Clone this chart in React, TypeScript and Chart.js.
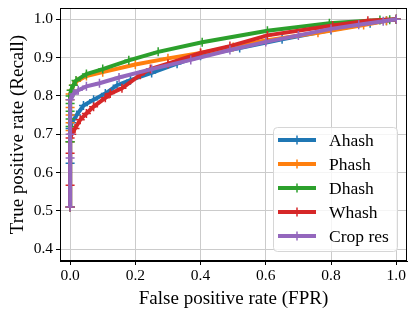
import React, { useEffect, useRef } from "react";
import { Chart, registerables } from "chart.js";
Chart.register(...registerables);

const seriesNames = ["Ahash", "Phash", "Dhash", "Whash", "Crop res"];
const seriesColors = ["#1f77b4", "#ff7f0e", "#2ca02c", "#d62728", "#9467bd"];

const ahashFpr = [0, 0, 0, 0, 0.005, 0.02, 0.041, 0.072, 0.108, 0.144, 0.185, 0.25, 0.328, 0.4, 0.52, 0.65, 0.8, 0.92, 0.97, 1];
const ahashTpr = [0.51, 0.624, 0.68, 0.715, 0.73, 0.75, 0.775, 0.79, 0.806, 0.828, 0.841, 0.86, 0.884, 0.905, 0.925, 0.948, 0.972, 0.99, 0.996, 1];

const phashFpr = [0, 0, 0, 0, 0, 0, 0, 0, 0.005, 0.01, 0.02, 0.05, 0.1, 0.2, 0.3, 0.4, 0.5, 0.6, 0.76, 0.9, 0.97, 1];
const phashTpr = [0.51, 0.68, 0.71, 0.73, 0.75, 0.77, 0.79, 0.805, 0.815, 0.828, 0.838, 0.852, 0.862, 0.882, 0.898, 0.912, 0.928, 0.945, 0.965, 0.985, 0.996, 1];

const dhashFpr = [0, 0, 0, 0, 0, 0, 0, 0.003, 0.01, 0.018, 0.05, 0.1, 0.18, 0.27, 0.405, 0.605, 0.795, 0.95, 0.98, 1];
const dhashTpr = [0.51, 0.68, 0.72, 0.74, 0.76, 0.78, 0.8, 0.815, 0.828, 0.84, 0.857, 0.87, 0.893, 0.915, 0.94, 0.97, 0.99, 0.998, 0.999, 1];

const whashFpr = [0, 0, 0, 0, 0.005, 0.015, 0.031, 0.05, 0.072, 0.108, 0.123, 0.159, 0.215, 0.246, 0.3, 0.4, 0.49, 0.605, 0.805, 0.913, 1];
const whashTpr = [0.51, 0.567, 0.65, 0.69, 0.7, 0.715, 0.738, 0.754, 0.772, 0.795, 0.806, 0.82, 0.855, 0.87, 0.884, 0.912, 0.93, 0.958, 0.984, 0.996, 1];

const cropFpr = [0, 0, 0, 0, 0.01, 0.025, 0.05, 0.09, 0.15, 0.25, 0.37, 0.49, 0.6, 0.7, 0.8, 0.885, 0.96, 1];
const cropTpr = [0.51, 0.638, 0.7, 0.79, 0.805, 0.815, 0.825, 0.833, 0.848, 0.87, 0.894, 0.92, 0.941, 0.958, 0.975, 0.986, 0.995, 1];

const xTickValues = [0, 0.2, 0.4, 0.6, 0.8, 1.0];
const yTickValues = [0.4, 0.5, 0.6, 0.7, 0.8, 0.9, 1.0];

const xAxisLabel = "False positive rate (FPR)";
const yAxisLabel = "True positive rate (Recall)";

const FONT = "'Liberation Serif', 'Times New Roman', serif";

const fprs = [ahashFpr, phashFpr, dhashFpr, whashFpr, cropFpr];
const tprs = [ahashTpr, phashTpr, dhashTpr, whashTpr, cropTpr];

const framePlugin = {
  id: "frameAndLegend",
  afterDraw(chart: any) {
    const { ctx, chartArea } = chart;
    ctx.save();
    ctx.strokeStyle = "#000";
    ctx.lineWidth = 1;
    ctx.strokeRect(chartArea.left + 0.5, chartArea.top + 0.5, chartArea.right - chartArea.left - 1, chartArea.bottom - chartArea.top - 1);

    // legend
    const bx = 273.5, by = 127.5, bw = 124, bh = 124, r = 4;
    ctx.beginPath();
    ctx.moveTo(bx + r, by);
    ctx.lineTo(bx + bw - r, by);
    ctx.quadraticCurveTo(bx + bw, by, bx + bw, by + r);
    ctx.lineTo(bx + bw, by + bh - r);
    ctx.quadraticCurveTo(bx + bw, by + bh, bx + bw - r, by + bh);
    ctx.lineTo(bx + r, by + bh);
    ctx.quadraticCurveTo(bx, by + bh, bx, by + bh - r);
    ctx.lineTo(bx, by + r);
    ctx.quadraticCurveTo(bx, by, bx + r, by);
    ctx.closePath();
    ctx.fillStyle = "rgba(255,255,255,0.8)";
    ctx.fill();
    ctx.strokeStyle = "#d6d6d6";
    ctx.stroke();

    seriesNames.forEach((name, i) => {
      const y = 140 + i * 24;
      ctx.strokeStyle = seriesColors[i];
      ctx.lineWidth = 4;
      ctx.lineCap = "butt";
      ctx.beginPath();
      ctx.moveTo(278, y);
      ctx.lineTo(316, y);
      ctx.stroke();
      ctx.lineWidth = 1.5;
      ctx.beginPath();
      ctx.moveTo(297, y - 4.5);
      ctx.lineTo(297, y + 4.5);
      ctx.stroke();
      ctx.fillStyle = "#000";
      ctx.font = `17.5px ${FONT}`;
      ctx.textBaseline = "middle";
      ctx.textAlign = "left";
      ctx.fillText(name, 329, y + 1);
    });
    ctx.restore();
  },
};

export default function App() {
  const ref = useRef<HTMLCanvasElement | null>(null);
  useEffect(() => {
    document.body.style.margin = "0";
    const datasets = seriesNames.map((name, i) => ({
      label: name,
      data: fprs[i].map((x, j) => ({ x, y: tprs[i][j] })),
      borderColor: seriesColors[i],
      backgroundColor: seriesColors[i],
      borderWidth: 4,
      pointStyle: "cross",
      pointRadius: 4.5,
      pointBorderWidth: 1.5,
      pointBorderColor: seriesColors[i],
      pointHoverRadius: 4.5,
      fill: false,
      tension: 0,
      order: seriesNames.length - i,
    }));
    const tickFont = { family: FONT, size: 15.5 };
    const chart = new Chart(ref.current as HTMLCanvasElement, {
      type: "line",
      data: { datasets },
      plugins: [framePlugin],
      options: {
        animation: false,
        responsive: false,
        maintainAspectRatio: false,
        layout: { padding: { left: 0, top: 8, right: 8, bottom: 0 } },
        plugins: { legend: { display: false }, tooltip: { enabled: false } },
        scales: {
          x: {
            type: "linear",
            min: -0.031,
            max: 1.033,
            afterBuildTicks: (s: any) => {
              s.ticks = xTickValues.map((v) => ({ value: v }));
            },
            afterFit: (s: any) => {
              s.height = 54;
              s.paddingLeft = 0;
              s.paddingRight = 0;
            },
            grid: { color: "#cbcbcb", lineWidth: 1, tickLength: 4, tickColor: "#000", drawTicks: true },
            border: { color: "#000", width: 1 },
            ticks: {
              font: tickFont,
              color: "#000",
              padding: 2,
              maxRotation: 0,
              autoSkip: false,
              callback: (v: any) => Number(v).toFixed(1),
            },
            title: { display: true, text: xAxisLabel, font: { family: FONT, size: 19 }, color: "#000", padding: { top: 0, bottom: 5 } },
          },
          y: {
            type: "linear",
            min: 0.369,
            max: 1.0295,
            afterBuildTicks: (s: any) => {
              s.ticks = yTickValues.map((v) => ({ value: v }));
            },
            afterFit: (s: any) => {
              s.width = 60;
              s.paddingTop = 0;
              s.paddingBottom = 0;
            },
            grid: { color: "#cbcbcb", lineWidth: 1, tickLength: 4, tickColor: "#000", drawTicks: true },
            border: { color: "#000", width: 1 },
            ticks: {
              font: tickFont,
              color: "#000",
              padding: 3,
              autoSkip: false,
              callback: (v: any) => Number(v).toFixed(1),
            },
            title: { display: true, text: yAxisLabel, font: { family: FONT, size: 19 }, color: "#000", padding: { top: 7, bottom: 0 } },
          },
        },
      } as any,
    });
    return () => chart.destroy();
  }, []);
  return <canvas ref={ref} width={415} height={315} style={{ display: "block" }} />;
}
